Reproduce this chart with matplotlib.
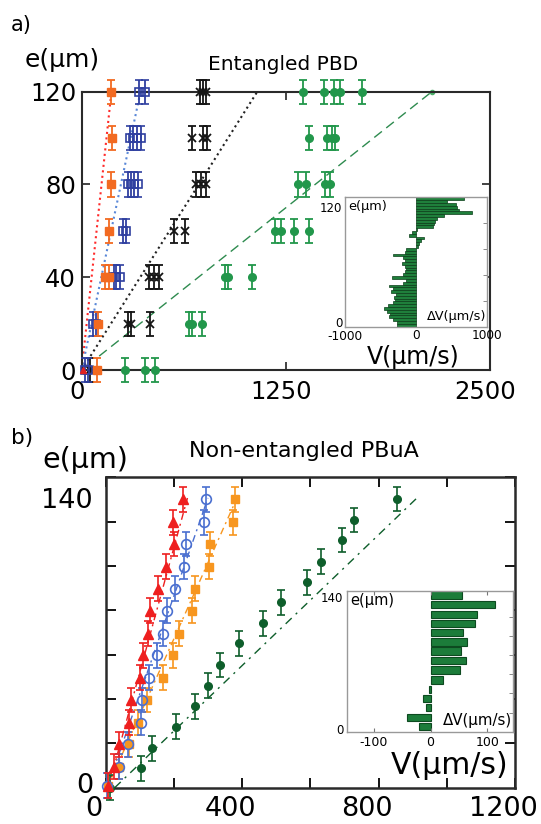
import numpy as np
import matplotlib
matplotlib.use("Agg")
import matplotlib.pyplot as plt
import matplotlib.transforms as mtransforms

plt.rcParams['font.family'] = ['DejaVu Sans']

W, H = 541, 824

# ---------------- Panel a data (Entangled PBD) ----------------
a_orange_e = [0, 20, 40, 40, 60, 80, 100, 120]
a_orange_v = [95, 100, 142, 165, 166, 178, 184, 182]
a_red_e = [0]
a_red_v = [5]
a_blue_e = [0, 0, 20, 20, 40, 40, 40, 60, 60, 80, 80, 80, 80, 100, 100, 100, 100, 120, 120]
a_blue_v = [20, 38, 72, 88, 195, 212, 232, 255, 272, 285, 302, 322, 345, 295, 316, 338, 362, 352, 390]
a_black_e = [0, 20, 20, 20, 40, 40, 40, 60, 60, 80, 80, 80, 100, 100, 100, 120, 120, 120]
a_black_v = [52, 285, 302, 420, 410, 442, 472, 565, 635, 700, 730, 762, 678, 745, 768, 725, 742, 762]
a_green_e = [0, 0, 0, 20, 20, 20, 40, 40, 40, 60, 60, 60, 60, 80, 80, 80, 80,
             100, 100, 100, 100, 120, 120, 120, 120, 120]
a_green_v = [268, 385, 450, 655, 675, 738, 875, 895, 1040, 1182, 1222, 1300, 1392,
             1322, 1372, 1488, 1518, 1393, 1500, 1530, 1552, 1357, 1482, 1547, 1583, 1717]
a_fit_e = [0, 120]
a_red_fit = [0, 182]
a_blue_fit = [0, 360]
a_black_fit = [0, 1075]
a_green_fit_e = [6, 120]
a_green_fit = [107, 2144]

# inset a: delta V profile, listed from top (e~128) to bottom (e~1)
a_dv = [678, 433, 565, 584, 612, 791, 395, 292, 268, 254, 245, 15, -61, -94, 113, 66,
        45, 30, -132, -155, -320, -179, -155, -202, -155, -141, -155, -179, -330, -141,
        -179, -377, -320, -344, -282, -311, -297, -320, -391, -452, -414, -367, -377,
        -320, -273, -260]

# ---------------- Panel b data (Non-entangled PBuA) ----------------
b_e = [1, 10.2, 21, 31.4, 42.4, 53.1, 64, 74.4, 85.5, 96.2, 106.8, 117.8, 128.3, 139.3]
b_red_v = [8, 26, 40, 70, 74, 101, 111, 125, 130, 155, 176, 201, 199, 228]
b_blue_v = [5, 40, 67, 104, 106, 128, 152, 169, 179, 203, 231, 236, 288, 294]
b_orange_v = [7, 40, 69, 96, 121, 169, 197, 215, 254, 262, 304, 306, 372, 379]
b_green_e = [0, 9.4, 19, 29.5, 39.4, 49.3, 59.3, 69.7, 79.5, 89.5, 99.2, 109.3, 119.7, 129.4, 139.5]
b_green_v = [12, 104, 135, 206, 262, 301, 335, 391, 460, 514, 589, 630, 693, 729, 853]
b_fit_e = [0, 140]
b_red_fit = [8, 240]
b_blue_fit = [5, 300]
b_orange_fit = [5, 385]
b_green_fit = [27, 912]

# inset b, listed from top to bottom
b_dv_e = [142.4, 132.7, 122.3, 112.9, 103.1, 93.4, 84.1, 74, 64.3, 53.9, 44.2, 34.8, 25.4, 14.5, 5.2]
b_dv = [56, 113, 82, 78, 58, 65, 53, 63, 52, 22, -3, -13, -8, -41, -20]

fig = plt.figure(figsize=(W / 100, H / 100), dpi=100)


def rect(l, t, r, b):
    return [l / W, 1 - b / H, (r - l) / W, (b - t) / H]


def ftxt(x, y, s, size, ha='left', va='center', **kw):
    fig.text(x / W, 1 - y / H, s, fontsize=size, ha=ha, va=va, **kw)


def shift_labels(labels, dx_px, dy_px=0):
    off = mtransforms.ScaledTranslation(dx_px / 100, dy_px / 100, fig.dpi_scale_trans)
    for lab in labels:
        lab.set_transform(lab.get_transform() + off)


# ================= Panel a =================
axa = fig.add_axes(rect(81.7, 91.7, 490, 370))
axa.set_xlim(0, 2500)
axa.set_ylim(0, 120)
c_or, c_bl, c_bk, c_gr = '#f26a21', '#2f3fa0', '#151515', '#22974b'
axa.plot(a_red_fit, a_fit_e, ':', color='#ff2a2a', lw=1.5, zorder=2)
axa.plot(a_blue_fit, a_fit_e, ':', color='#5a88d8', lw=1.5, zorder=2)
axa.plot(a_black_fit, a_fit_e, ':', color='#222222', lw=1.5, zorder=2)
axa.plot(a_green_fit, a_green_fit_e, '--', color='#2e8b4f', lw=1.0, dashes=(7, 4), zorder=2)
axa.plot(a_green_fit[-1:], a_green_fit_e[-1:], 'o', ms=3, color='#4caf6a', clip_on=False)
ekw = dict(capsize=2.6, elinewidth=1.3, capthick=1.3, clip_on=False, zorder=3)
axa.errorbar(a_green_v, a_green_e, yerr=5.2, fmt='o', ms=5.5, color=c_gr, **ekw)
axa.errorbar(a_black_v, a_black_e, yerr=5.2, fmt='x', ms=5.5, mew=1.3, color=c_bk, **ekw)
axa.errorbar(a_blue_v, a_blue_e, yerr=5.2, fmt='s', ms=5.8, mfc='none', mew=1.2, color=c_bl, **ekw)
axa.errorbar(a_orange_v, a_orange_e, yerr=5.2, fmt='s', ms=6.2, color=c_or, **ekw)
axa.plot(a_red_v, a_red_e, '^', ms=4, color='#e02020', clip_on=False, zorder=4)
axa.set_xticks([0, 1250, 2500])
axa.set_xticklabels(['0', '1250', '2500'])
axa.set_yticks([0, 40, 80, 120])
axa.set_yticklabels(['0', '40', '80', '120'])
axa.tick_params(direction='in', length=6, width=1.2, top=True, right=True, labelsize=17.5,
                color='#222222')
axa.tick_params(axis='x', pad=7)
axa.tick_params(axis='y', pad=4)
for s in axa.spines.values():
    s.set_linewidth(1.5)
    s.set_color('#2a2a2a')
shift_labels(axa.get_xticklabels(), -5)

# inset a
ia = fig.add_axes(rect(345, 197.3, 486.7, 326.7))
ia.set_xlim(-1000, 1000)
ia.set_ylim(0, 130)
n = len(a_dv)
hgt = 130 / n
pos = [130 - hgt * (i + 0.5) for i in range(n)]
ia.barh(pos, a_dv, height=hgt, color='#1f7f3b', edgecolor='#0b3d19', linewidth=0.5)
ia.set_xticks([-1000, 0, 1000])
ia.set_xticklabels(['-1000', '0', '1000'])
ia.set_yticks([0, 120])
ia.set_yticklabels(['0', '120'])
ia.tick_params(axis='y', length=0, labelsize=8.5, pad=2)
ia.tick_params(axis='x', length=0, labelsize=8.7, pad=2)
ia.set_yticks(np.arange(0, 131, 26), minor=True)
ia.tick_params(axis='y', which='minor', direction='in', length=3, left=False, right=True,
               color='#777777')
for s in ia.spines.values():
    s.set_linewidth(1.0)
    s.set_color('#999999')
shift_labels(ia.get_yticklabels()[:1], 0, 5)
shift_labels(ia.get_xticklabels()[:1], 0, -1)
ia.text(0.02, 0.93, 'e(μm)', transform=ia.transAxes, fontsize=9.3, ha='left', va='center')
ia.text(0.995, 0.075, 'ΔV(μm/s)', transform=ia.transAxes, fontsize=9.3, ha='right', va='center')
ftxt(413, 357, 'V(μm/s)', 17, ha='center')

ftxt(11, 25, 'a)', 15)
ftxt(25, 60, 'e(μm)', 18)
ftxt(283.5, 64, 'Entangled PBD', 14.5, ha='center')

# ================= Panel b =================
axb = fig.add_axes(rect(105.5, 477.3, 515.3, 787.7))
axb.set_xlim(0, 1200)
axb.set_ylim(0, 150)
cr, cb, co, cg = '#ee1f1f', '#4a6fd0', '#f7961f', '#0e5e2b'
axb.plot(b_green_fit, b_fit_e, '-.', color=cg, lw=1.0, dashes=(6, 4, 1.5, 4), zorder=2)
axb.plot(b_orange_fit, b_fit_e, '-.', color=co, lw=1.0, dashes=(5, 3, 1.5, 3), zorder=2)
axb.plot(b_blue_fit, b_fit_e, '-.', color=cb, lw=1.0, dashes=(5, 3, 1.5, 3), zorder=2)
axb.plot(b_red_fit, b_fit_e, '-.', color=cr, lw=1.0, dashes=(5, 3, 1.5, 3), zorder=2)
ekb = dict(capsize=2.6, elinewidth=1.2, capthick=1.2, clip_on=False, zorder=3)
axb.errorbar(b_green_v, b_green_e, yerr=6, fmt='o', ms=5.5, color=cg, **ekb)
axb.errorbar(b_orange_v, b_e, yerr=6, fmt='s', ms=5.8, color=co, **ekb)
axb.errorbar(b_blue_v, b_e, yerr=6, fmt='o', ms=7, mfc='none', mew=1.2, color=cb, **ekb)
axb.errorbar(b_red_v, b_e, yerr=6, fmt='^', ms=6.8, color=cr, **ekb)
axb.set_xticks([0, 400, 800, 1200])
axb.set_xticklabels(['0', '400', '800', '1200'])
axb.set_xticks([200, 600, 1000], minor=True)
axb.set_yticks([0, 140])
axb.set_yticklabels(['0', '140'])
axb.set_yticks(np.linspace(0, 150, 8), minor=True)
axb.tick_params(axis='x', which='both', direction='in', length=7, width=1.3, top=True,
                labelsize=19.5, pad=5)
axb.tick_params(axis='y', which='major', length=0, labelsize=19.5, pad=9)
axb.tick_params(axis='y', which='minor', direction='in', length=7, width=1.3, left=True, right=True)
for s in axb.spines.values():
    s.set_linewidth(1.8)
    s.set_color('#2a2a2a')
shift_labels(axb.get_xticklabels(), -12, -1)
shift_labels(axb.get_yticklabels()[:1], 0, 5)

# inset b
ib = fig.add_axes(rect(347.3, 590.7, 513.3, 731.7))
ib.set_xlim(-147, 146)
ib.set_ylim(0, 147)
ib.barh(b_dv_e, b_dv, height=7.6, color='#1c7c3a', edgecolor='#0d4a20', linewidth=0.8)
ib.set_xticks([-100, 0, 100])
ib.set_xticklabels(['-100', '0', '100'])
ib.set_yticks([0, 140])
ib.set_yticklabels(['0', '140'])
ib.tick_params(axis='y', length=0, labelsize=8.5, pad=3)
ib.tick_params(axis='x', direction='in', length=3, top=True, labelsize=9, pad=3, color='#777777')
ib.set_yticks(np.arange(0, 147, 20), minor=True)
ib.tick_params(axis='y', which='minor', direction='in', length=3, left=False, right=True,
               color='#777777')
for s in ib.spines.values():
    s.set_linewidth(1.0)
    s.set_color('#999999')
shift_labels(ib.get_yticklabels()[:1], 0, 3)
ib.text(0.02, 0.93, 'e(μm)', transform=ib.transAxes, fontsize=10.5, ha='left', va='center')
ib.text(0.995, 0.08, 'ΔV(μm/s)', transform=ib.transAxes, fontsize=10.8, ha='right', va='center')
ftxt(450, 765, 'V(μm/s)', 21.5, ha='center')

ftxt(11, 438, 'b)', 15.5)
ftxt(42, 460, 'e(μm)', 20.5)
ftxt(303.5, 451, 'Non-entangled PBuA', 16, ha='center')

fig.savefig('out.png', dpi=100)
